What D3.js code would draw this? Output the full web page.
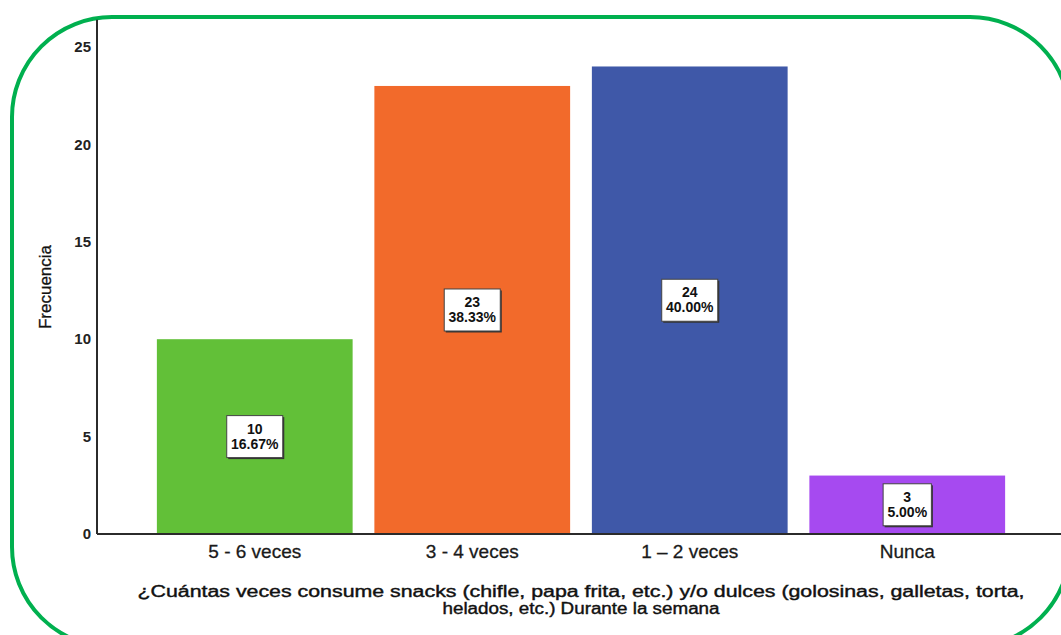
<!DOCTYPE html>
<html>
<head>
<meta charset="utf-8">
<script src="https://cdn.jsdelivr.net/npm/d3@7"></script>
<style>
  html, body { margin: 0; padding: 0; background: #fff; }
  svg { display: block; font-family: "Liberation Sans", Arial, sans-serif; }
</style>
</head>
<body>
<div class="canvas"></div>
<script>
// data
const categories = ['5 - 6 veces', '3 - 4 veces', '1 \u2013 2 veces', 'Nunca'];
const counts = [10, 23, 24, 3];
const percents = ['16.67%', '38.33%', '40.00%', '5.00%'];
const barColors = ['#62c038', '#f26a2b', '#3f58a8', '#a64af0'];
const yTicks = [0, 5, 10, 15, 20, 25];
const xTitle = ['\u00bfCu\u00e1ntas veces consume snacks (chifle, papa frita, etc.) y/o dulces (golosinas,  galletas, torta,',
                'helados, etc.) Durante la semana'];
const xTitleLen = [887, 277];

const width = 1061, height = 635;

const svg = d3.select('.canvas').append('svg')
    .attr('width', width)
    .attr('height', height);

// green rounded frame
svg.append('rect')
    .attr('x', 12)
    .attr('y', 17)
    .attr('width', 1058)
    .attr('height', 630)
    .attr('rx', 100)
    .attr('ry', 100)
    .attr('fill', 'none')
    .attr('stroke', '#00b04f')
    .attr('stroke-width', 4);

// scales
const x = d3.scaleBand()
    .domain(categories)
    .range([146, 1016])
    .paddingInner(0.1)
    .paddingOuter(0.05);

const y = d3.scaleLinear()
    .domain([0, 25])
    .range([534, 47]);

const axisTop = y(26.4);

// bars
svg.selectAll('.bar')
    .data(categories)
    .join('rect')
    .attr('class', 'bar')
    .attr('x', d => x(d))
    .attr('y', (d, i) => y(counts[i]))
    .attr('width', x.bandwidth())
    .attr('height', (d, i) => y(0) - y(counts[i]))
    .attr('fill', (d, i) => barColors[i]);

// axes lines
svg.append('line')
    .attr('x1', 97).attr('x2', 97)
    .attr('y1', axisTop).attr('y2', y(0))
    .attr('stroke', '#2b2b2b')
    .attr('stroke-width', 2);

svg.append('line')
    .attr('x1', 97).attr('x2', width)
    .attr('y1', y(0)).attr('y2', y(0))
    .attr('stroke', '#2b2b2b')
    .attr('stroke-width', 2);

// y tick labels
svg.selectAll('.ytick')
    .data(yTicks)
    .join('text')
    .attr('class', 'ytick')
    .attr('x', 91)
    .attr('y', d => y(d))
    .attr('dy', '0.35em')
    .attr('text-anchor', 'end')
    .attr('fill', '#222')
    .style('font-size', '15px')
    .style('font-weight', 700)
    .text(d => d);

// x tick labels
svg.selectAll('.xtick')
    .data(categories)
    .join('text')
    .attr('class', 'xtick')
    .attr('x', d => x(d) + x.bandwidth() / 2)
    .attr('y', 558)
    .attr('text-anchor', 'middle')
    .attr('fill', '#1a1a1a')
    .attr('stroke', '#1a1a1a')
    .attr('stroke-width', 0.3)
    .style('font-size', '19px')
    .text(d => d);

// axis titles
svg.selectAll('.xtitle')
    .data(xTitle)
    .join('text')
    .attr('class', 'xtitle')
    .attr('x', 581)
    .attr('y', (d, i) => 597 + i * 17)
    .attr('text-anchor', 'middle')
    .attr('textLength', (d, i) => xTitleLen[i])
    .attr('lengthAdjust', 'spacingAndGlyphs')
    .attr('fill', '#111')
    .attr('stroke', '#111')
    .attr('stroke-width', 0.4)
    .style('font-size', '16px')
    .text(d => d);

svg.append('text')
    .attr('transform', 'translate(51,287) rotate(-90)')
    .attr('text-anchor', 'middle')
    .attr('fill', '#111')
    .attr('stroke', '#111')
    .attr('stroke-width', 0.3)
    .style('font-size', '17px')
    .text('Frecuencia');

// value labels
categories.forEach((c, i) => {
    const cx = x(c) + x.bandwidth() / 2;
    const cy = (y(counts[i]) + y(0)) / 2;
    const g = svg.append('g').attr('transform', `translate(${cx},${cy})`);
    const shadow = g.append('rect');
    const box = g.append('rect');
    const t = g.append('text')
        .attr('text-anchor', 'middle')
        .attr('fill', '#111')
        .style('font-size', '14px')
        .style('font-weight', 700);
    t.append('tspan').attr('x', 0).attr('y', -3).text(counts[i]);
    t.append('tspan').attr('x', 0).attr('y', 12).text(percents[i]);
    const bb = t.node().getBBox();
    const w = bb.width + 8, h = 42;
    shadow.attr('x', -w / 2 + 1.5).attr('y', -h / 2 + 1.5)
        .attr('width', w).attr('height', h)
        .attr('fill', '#333');
    box.attr('x', -w / 2).attr('y', -h / 2)
        .attr('width', w).attr('height', h)
        .attr('fill', '#fff')
        .attr('stroke', '#444')
        .attr('stroke-width', 1);
});
</script>
</body>
</html>
